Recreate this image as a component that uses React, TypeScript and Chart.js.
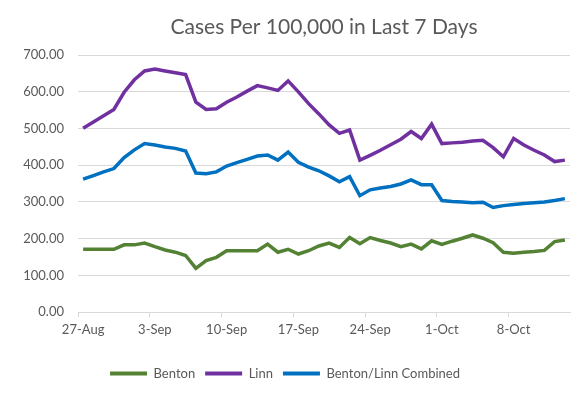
import React, { useEffect, useRef } from "react";
import { Chart, registerables } from "chart.js";

Chart.register(...registerables);

const dates = [
  "27-Aug", "28-Aug", "29-Aug", "30-Aug", "31-Aug",
  "1-Sep", "2-Sep", "3-Sep", "4-Sep", "5-Sep", "6-Sep", "7-Sep", "8-Sep", "9-Sep", "10-Sep",
  "11-Sep", "12-Sep", "13-Sep", "14-Sep", "15-Sep", "16-Sep", "17-Sep", "18-Sep", "19-Sep", "20-Sep",
  "21-Sep", "22-Sep", "23-Sep", "24-Sep", "25-Sep", "26-Sep", "27-Sep", "28-Sep", "29-Sep", "30-Sep",
  "1-Oct", "2-Oct", "3-Oct", "4-Oct", "5-Oct", "6-Oct", "7-Oct", "8-Oct", "9-Oct", "10-Oct",
  "11-Oct", "12-Oct", "13-Oct",
];

const benton = [
  171, 171, 171, 171, 183, 183, 188, 178, 169, 163, 154, 119, 140, 149, 167, 167,
  167, 167, 185, 163, 171, 158, 167, 180, 188, 176, 203, 186, 203, 195, 188, 178,
  185, 172, 194, 184, 193, 201, 210, 201, 189, 163, 160, 163, 165, 168, 192, 196,
];

const linn = [
  501, 518, 535, 552, 599, 633, 657, 662, 657, 652, 647, 572, 552, 554, 572, 586,
  602, 617, 611, 604, 630, 600, 568, 540, 510, 487, 496, 414, 427, 441, 456, 471,
  492, 473, 512, 459, 461, 463, 466, 468, 448, 423, 473, 455, 441, 428, 410, 414,
];

const combined = [
  362, 372, 382, 391, 421, 442, 459, 455, 450, 446, 439, 379, 377, 382, 398, 407,
  416, 425, 428, 414, 436, 408, 395, 385, 371, 355, 369, 317, 333, 338, 342, 349,
  360, 347, 347, 304, 301, 300, 298, 299, 285, 290, 293, 296, 298, 300, 304, 309,
];

const seriesNames = ["Benton", "Linn", "Benton/Linn Combined"];
const seriesColors = ["#548235", "#7030A0", "#0070C0"];
const titleText = "Cases Per 100,000 in Last 7 Days";

const FONT = "Lato, 'Open Sans', sans-serif";
const TEXT = "#595959";
const GRID = "#D9D9D9";

export default function App() {
  const ref = useRef<HTMLCanvasElement | null>(null);

  useEffect(() => {
    if (!ref.current) return;
    const values = [benton, linn, combined];
    const chart = new Chart(ref.current, {
      type: "line",
      data: {
        labels: dates,
        datasets: values.map((v, i) => ({
          label: seriesNames[i],
          data: v,
          borderColor: seriesColors[i],
          backgroundColor: seriesColors[i],
          borderWidth: 3.5,
          pointRadius: 0,
          tension: 0,
          fill: false,
        })),
      },
      options: {
        responsive: false,
        animation: false,
        devicePixelRatio: 1,
        layout: { padding: { left: 0, right: 14, top: 0, bottom: 4 } },
        plugins: {
          title: {
            display: true,
            text: titleText,
            fullSize: false,
            color: TEXT,
            font: { family: FONT, size: 21, weight: "normal" },
            padding: { top: 15, bottom: 15 },
          },
          legend: {
            position: "bottom",
            labels: {
              boxWidth: 37,
              boxHeight: 4,
              padding: 10,
              color: TEXT,
              font: { family: FONT, size: 13 },
              generateLabels: (c: any) =>
                c.data.datasets.map((ds: any, i: number) => ({
                  text: ds.label,
                  fillStyle: ds.borderColor,
                  strokeStyle: ds.borderColor,
                  lineWidth: 0,
                  hidden: false,
                  datasetIndex: i,
                  fontColor: TEXT,
                })),
            },
          },
          tooltip: { enabled: false },
        },
        scales: {
          x: {
            type: "category",
            offset: true,
            afterFit: (axis: any) => {
              axis.height = 45;
            },
            grid: {
              offset: true,
              drawOnChartArea: false,
              drawTicks: true,
              tickLength: 5,
              color: (ctx: any) =>
                typeof ctx.index === "number" && ctx.index % 7 === 0 ? GRID : "rgba(0,0,0,0)",
            },
            border: { display: true, color: GRID, width: 1 },
            ticks: {
              autoSkip: false,
              maxRotation: 0,
              minRotation: 0,
              padding: 5,
              color: TEXT,
              font: { family: FONT, size: 13 },
              callback: (_v: any, index: number) => (index % 7 === 0 ? dates[index] : ""),
            },
          },
          y: {
            min: 0,
            max: 700,
            afterFit: (axis: any) => {
              axis.width = 78;
            },
            grid: { color: GRID, drawTicks: false, lineWidth: 1 },
            border: { display: false },
            ticks: {
              stepSize: 100,
              padding: 14,
              color: TEXT,
              font: { family: FONT, size: 13 },
              callback: (v: any) => Number(v).toFixed(2),
            },
          },
        },
      },
    });
    return () => chart.destroy();
  }, []);

  return (
    <div style={{ position: "absolute", left: 0, top: 0, width: 584, height: 394, background: "#fff" }}>
      <canvas ref={ref} width={584} height={394} />
    </div>
  );
}
